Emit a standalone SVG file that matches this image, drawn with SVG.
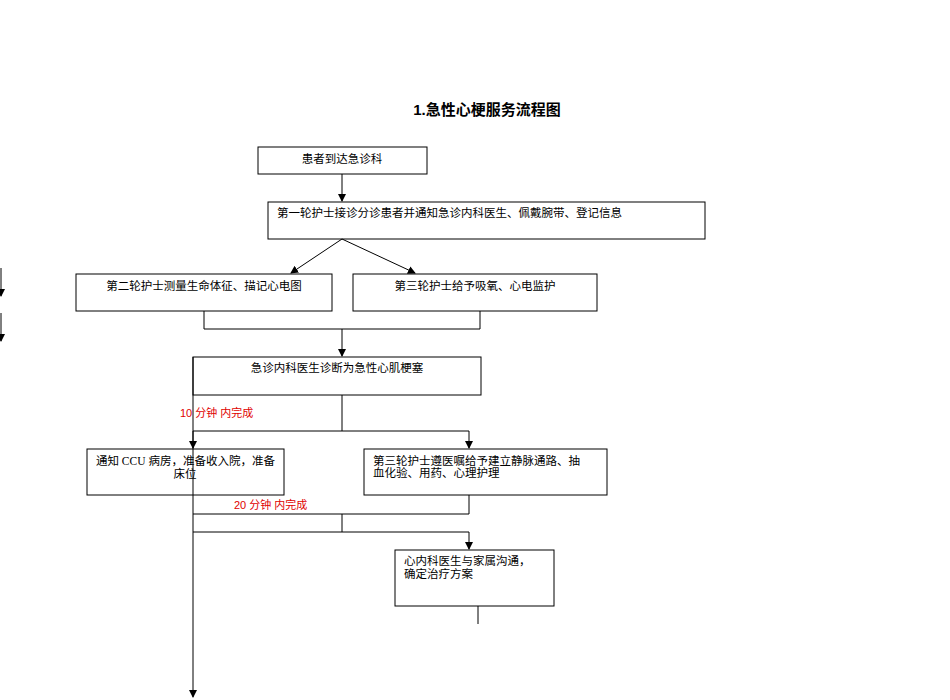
<svg xmlns="http://www.w3.org/2000/svg" width="950" height="700" viewBox="0 0 950 700">
<style>
.b{fill:#fff;stroke:#000;stroke-width:1}
.t{font-family:"Liberation Serif","Noto Sans CJK SC",serif;font-size:11.5px;fill:#000}
.r{font-family:"Liberation Sans","Noto Sans CJK SC",sans-serif;font-size:11px;fill:#e00000}
.c{fill:none;stroke:#000;stroke-width:1}
</style>
<defs><marker id="a" markerWidth="8" markerHeight="8" refX="7" refY="4" orient="auto" markerUnits="userSpaceOnUse"><path d="M0,0L8,4L0,8z" fill="#000"/></marker></defs>
<rect width="950" height="700" fill="#fff"/>
<text x="487" y="115" text-anchor="middle" style="font-family:'Liberation Sans','Noto Sans CJK SC',sans-serif;font-size:15px;font-weight:bold">1.急性心梗服务流程图</text>
<g id="n1"><rect class="b" x="258" y="147" width="169" height="27"/><text class="t" x="342" y="163" text-anchor="middle">患者到达急诊科</text></g>
<g id="n2"><rect class="b" x="268" y="202" width="437" height="37"/><text class="t" x="277" y="217">第一轮护士接诊分诊患者并通知急诊内科医生、佩戴腕带、登记信息</text></g>
<g id="n3"><rect class="b" x="76" y="274" width="256" height="37"/><text class="t" x="204" y="290" text-anchor="middle">第二轮护士测量生命体征、描记心电图</text></g>
<g id="n4"><rect class="b" x="353" y="274" width="244" height="37"/><text class="t" x="475" y="290" text-anchor="middle">第三轮护士给予吸氧、心电监护</text></g>
<g id="n5"><rect class="b" x="193" y="357" width="288" height="38"/><text class="t" x="337" y="372" text-anchor="middle">急诊内科医生诊断为急性心肌梗塞</text></g>
<g id="n6"><rect class="b" x="87" y="449" width="197" height="46"/><text class="t" x="96" y="465">通知 CCU 病房，准备收入院，准备</text><text class="t" x="185" y="478" text-anchor="middle">床位</text></g>
<g id="n7"><rect class="b" x="364" y="449" width="243" height="46"/><text class="t" x="373" y="465">第三轮护士遵医嘱给予建立静脉通路、抽</text><text class="t" x="373" y="477">血化验、用药、心理护理</text></g>
<g id="n8"><rect class="b" x="395" y="550" width="159" height="56"/><text class="t" x="404" y="565">心内科医生与家属沟通，</text><text class="t" x="404" y="578">确定治疗方案</text></g>
<g id="labels"><text class="r" x="180" y="417">10 分钟   内完成</text><text class="r" x="234" y="509">20 分钟    内完成</text></g>
<g id="connectors">
<path class="c" d="M342,174V201" marker-end="url(#a)"/>
<path class="c" d="M342,239L291,273" marker-end="url(#a)"/>
<path class="c" d="M342,239L415,273" marker-end="url(#a)"/>
<path class="c" d="M204,311V329H480V311"/>
<path class="c" d="M342,329V356" marker-end="url(#a)"/>
<path class="c" d="M342,395V431"/>
<path class="c" d="M193,431H469V448" marker-end="url(#a)"/>
<path class="c" d="M193,357V697" marker-end="url(#a)"/>
<path class="c" d="M193,431V448" marker-end="url(#a)"/>
<path class="c" d="M469,495V514H193"/>
<path class="c" d="M342,514V532"/>
<path class="c" d="M193,532H469V549" marker-end="url(#a)"/>
<path class="c" d="M478,606V624"/>
<path class="c" d="M1,268V296" marker-end="url(#a)"/>
<path class="c" d="M1,313V341" marker-end="url(#a)"/>
</g>
</svg>
